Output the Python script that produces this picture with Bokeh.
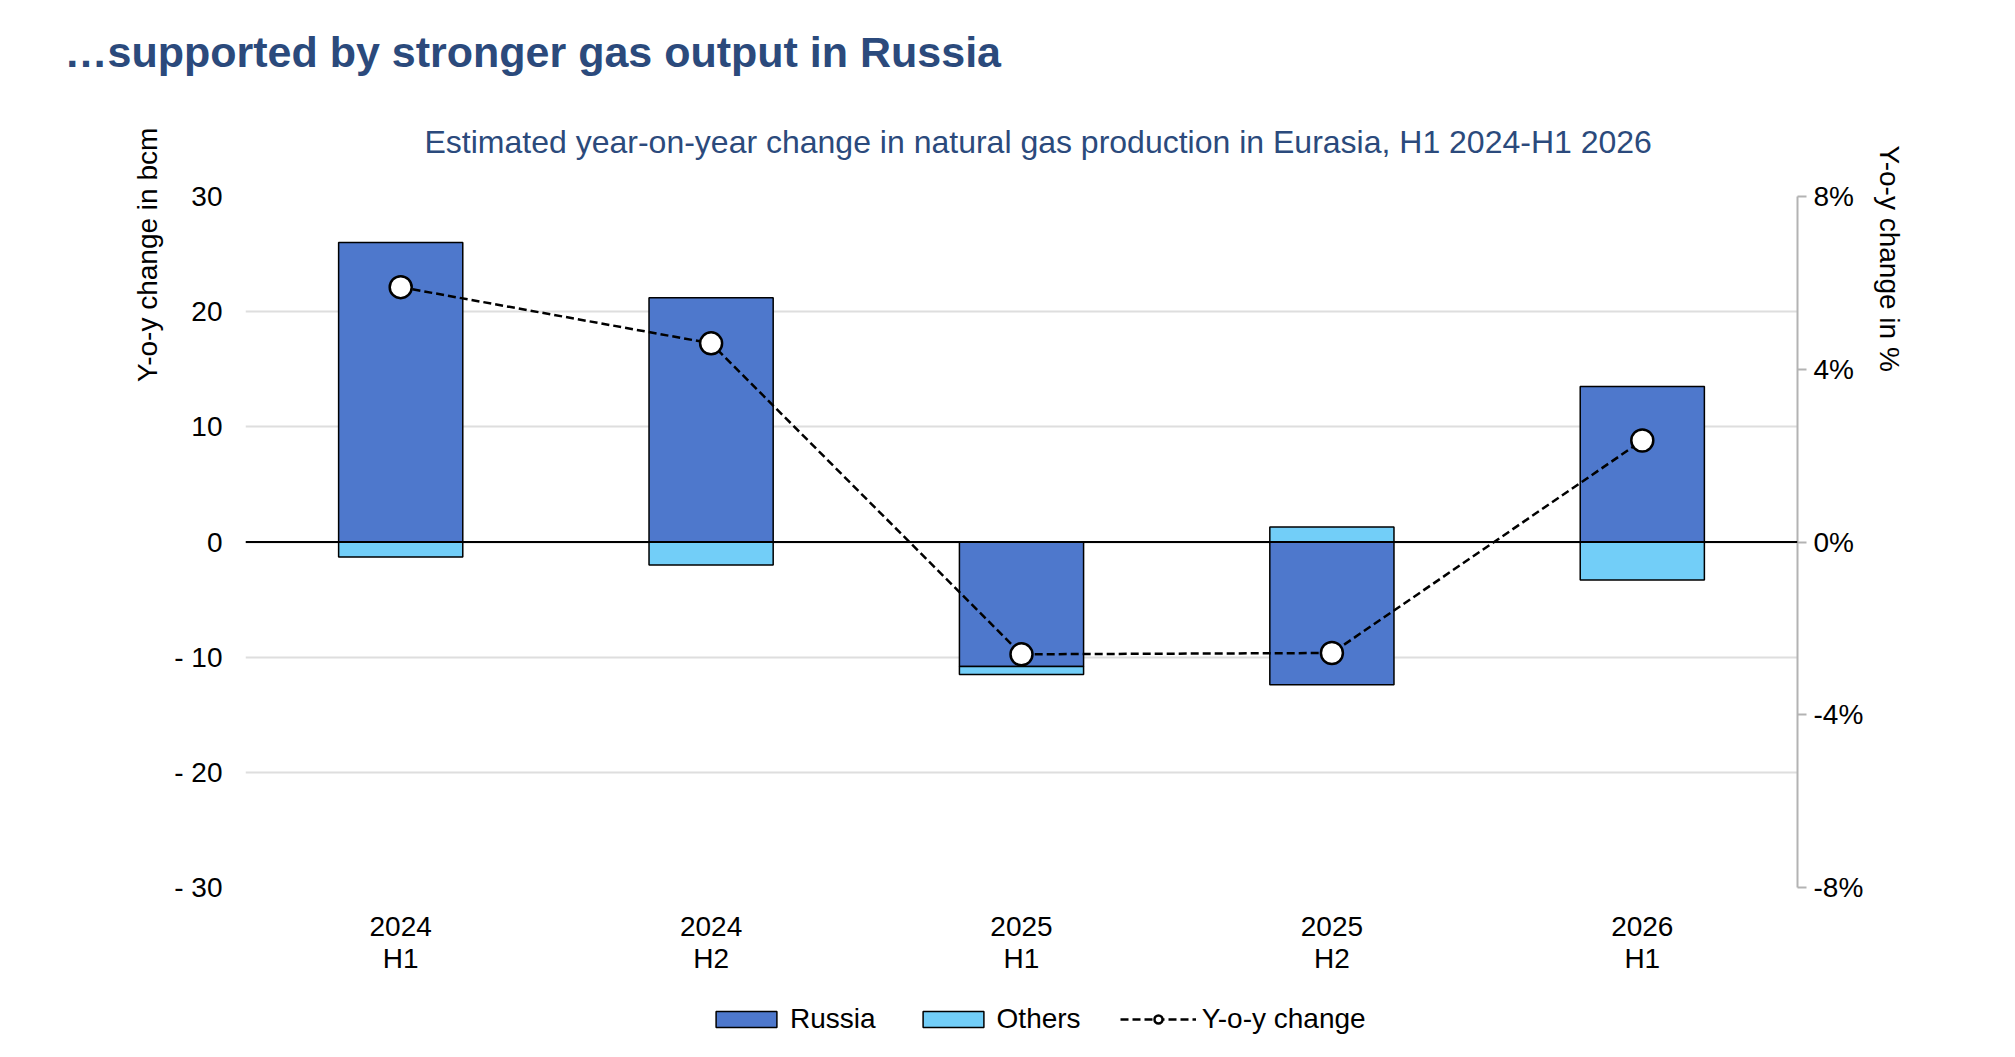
from bokeh.plotting import figure
from bokeh.layouts import column
from bokeh.models import (FactorRange, Range1d, LinearAxis, FixedTicker,
                          CustomJSTickFormatter, PrintfTickFormatter, Span,
                          Legend, LegendItem, Title, ColumnDataSource)
from bokeh.embed import file_html
from bokeh.resources import INLINE

# Half-year periods and estimated y-o-y changes in Eurasian gas output
periods = ["2024\nH1", "2024\nH2", "2025\nH1", "2025\nH2", "2026\nH1"]
russia_bcm = [26.0, 21.2, -10.8, -12.4, 13.5]
others_bcm = [-1.3, -2.0, -0.7, 1.3, -3.3]
yoy_pct = [5.9, 4.6, -2.6, -2.57, 2.35]

bcm_ticks = [-30, -20, -10, 0, 10, 20, 30]
pct_ticks = [-8, -4, 0, 4, 8]

FONT = "Liberation Sans"
NAVY = "#2b4a7c"
RUSSIA_COLOR = "#4e78cc"
OTHERS_COLOR = "#72cef8"
PAD = "\u00a0"

# Stack "Others" on the Russia bar when both move in the same direction
others_base = [r if (r > 0) == (o > 0) else 0.0 for r, o in zip(russia_bcm, others_bcm)]
others_top = [b + o for b, o in zip(others_base, others_bcm)]

src = ColumnDataSource(dict(
    period=periods, russia=russia_bcm, zero=[0.0] * len(periods),
    others_base=others_base, others_top=others_top, pct=yoy_pct,
))

bar_style = dict(width=0.4, line_color="black", line_width=1.5)
line_style = dict(line_color="black", line_width=2.5, line_dash="8 4")
point_style = dict(size=22, fill_color="white", line_color="black", line_width=2.5)

x_range = FactorRange(factors=periods, range_padding=0, factor_padding=0)

p = figure(
    x_range=x_range, y_range=Range1d(-30, 30),
    frame_width=1552, frame_height=691,
    output_backend="svg", toolbar_location=None, title=None,
    min_border_left=245, min_border_right=218,
    min_border_top=196, min_border_bottom=100,
)
p.extra_y_ranges = {"pct": Range1d(-8, 8)}
p.outline_line_color = None
p.background_fill_color = "white"
p.border_fill_color = "white"

# Stacked bars (bcm)
p.vbar(x="period", bottom="zero", top="russia", source=src, fill_color=RUSSIA_COLOR, **bar_style)
p.vbar(x="period", bottom="others_base", top="others_top", source=src, fill_color=OTHERS_COLOR, **bar_style)

# Zero line
p.add_layout(Span(location=0, dimension="width", line_color="black", line_width=2))

# Percentage change on the secondary axis
p.line(x="period", y="pct", source=src, y_range_name="pct", **line_style)
p.scatter(x="period", y="pct", source=src, y_range_name="pct", **point_style)

# Grid
p.xgrid.grid_line_color = None
p.ygrid.grid_line_color = "#dedede"
p.ygrid.grid_line_width = 2
p.ygrid.ticker = FixedTicker(ticks=bcm_ticks)

# Left axis (bcm)
yl = p.yaxis[0]
yl.ticker = FixedTicker(ticks=bcm_ticks)
yl.formatter = CustomJSTickFormatter(code="return tick < 0 ? '- ' + Math.abs(tick) : String(tick);")
yl.axis_line_color = None
yl.major_tick_line_color = None
yl.minor_tick_line_color = None
yl.major_label_standoff = 17
yl.major_label_text_font = FONT
yl.major_label_text_font_size = "28px"
yl.major_label_text_color = "black"
yl.axis_label = "Y-o-y change in bcm" + PAD * 15
yl.axis_label_text_font = FONT
yl.axis_label_text_font_size = "28px"
yl.axis_label_text_font_style = "normal"
yl.axis_label_text_color = "black"
yl.axis_label_standoff = 8

# Right axis (%)
yr = LinearAxis(y_range_name="pct", ticker=FixedTicker(ticks=pct_ticks),
                formatter=PrintfTickFormatter(format="%d%%"))
yr.axis_line_color = "#b3b3b3"
yr.axis_line_width = 2
yr.major_tick_line_color = "#b3b3b3"
yr.major_tick_line_width = 2
yr.major_tick_in = 0
yr.major_tick_out = 9
yr.minor_tick_line_color = None
yr.major_label_standoff = 7
yr.major_label_text_font = FONT
yr.major_label_text_font_size = "28px"
yr.major_label_text_color = "black"
yr.axis_label = PAD * 16 + "Y-o-y change in %"
yr.axis_label_text_font = FONT
yr.axis_label_text_font_size = "28px"
yr.axis_label_text_font_style = "normal"
yr.axis_label_text_color = "black"
yr.axis_label_standoff = 8
p.add_layout(yr, "right")

# Both axis titles sit toward the top of their axes
for ax in (yl, yr):
    if "axis_label_align" in ax.properties():
        ax.axis_label_align = "end"

# Category axis
xa = p.xaxis[0]
xa.axis_line_color = None
xa.major_tick_line_color = None
xa.minor_tick_line_color = None
xa.major_label_standoff = 17
xa.major_label_text_font = FONT
xa.major_label_text_font_size = "28px"
xa.major_label_text_color = "black"
xa.major_label_text_line_height = 1.05

# Titles
subtitle = Title(text="Estimated year-on-year change in natural gas production in Eurasia, H1 2024-H1 2026",
                 align="left", offset=179, standoff=73,
                 text_font=FONT, text_font_size="32px", text_font_style="normal", text_color=NAVY)
p.add_layout(subtitle, "above")
main_title = Title(text="\u2026supported by stronger gas output in Russia",
                   align="left", offset=-181, standoff=19,
                   text_font=FONT, text_font_size="43px", text_font_style="bold", text_color=NAVY)
p.add_layout(main_title, "above")

# Legend strip under the chart; its series are hidden, only their keys are shown
leg = figure(x_range=x_range, y_range=Range1d(-30, 30), width=2015, height=70,
             x_axis_type=None, y_axis_type=None, output_backend="svg",
             toolbar_location=None, min_border=0)
leg.outline_line_color = None
leg.background_fill_color = "white"
leg.border_fill_color = "white"
lr = leg.vbar(x="period", bottom="zero", top="russia", source=src, fill_color=RUSSIA_COLOR,
              visible=False, **bar_style)
lo = leg.vbar(x="period", bottom="others_base", top="others_top", source=src, fill_color=OTHERS_COLOR,
              visible=False, **bar_style)
ll = leg.line(x="period", y="pct", source=src, visible=False, **line_style)
lp = leg.scatter(x="period", y="pct", source=src, visible=False, **point_style)

legend = Legend(
    items=[
        LegendItem(label="Russia", renderers=[lr]),
        LegendItem(label="Others", renderers=[lo]),
        LegendItem(label="Y-o-y change", renderers=[ll, lp]),
    ],
    orientation="horizontal", location=(463, 22),
    glyph_width=76, glyph_height=20, label_standoff=6, spacing=39,
    label_text_font=FONT, label_text_font_size="28px", label_text_color="black",
    inactive_fill_alpha=0,
    border_line_color=None, background_fill_alpha=0, padding=0, margin=0,
)
leg.add_layout(legend, "center")

open("out.html", "w").write(file_html(column(p, leg, spacing=0), INLINE))
